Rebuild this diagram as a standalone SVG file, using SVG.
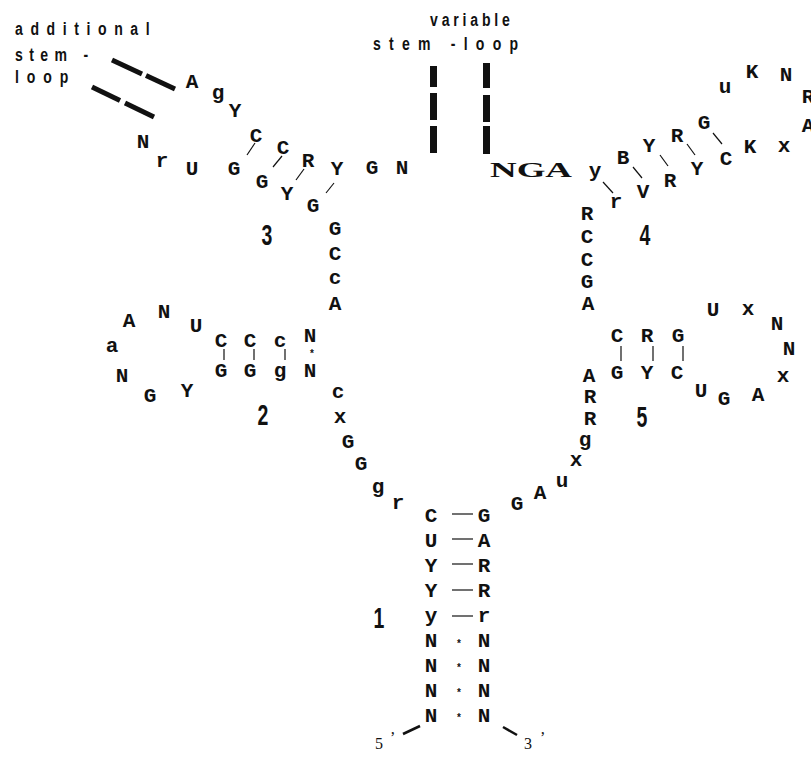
<svg xmlns="http://www.w3.org/2000/svg" width="811" height="758" viewBox="0 0 811 758">
<style>
.b{font-family:"Liberation Mono","Courier New",monospace;font-weight:bold;font-size:21px;text-anchor:middle;fill:#111}
.lab{font-family:"Liberation Sans",Arial,sans-serif;font-weight:bold;font-size:19px;fill:#111}
.num{font-family:"Liberation Sans",Arial,sans-serif;font-weight:bold;font-size:30px;text-anchor:middle;fill:#111}
.st{font-family:"Liberation Sans",Arial,sans-serif;font-weight:bold;font-size:10px;text-anchor:middle;fill:#111}
.end{font-family:"Liberation Serif","Times New Roman",serif;font-size:16px;fill:#111}
.pl{stroke:#111;stroke-width:1.2;fill:none}
.thick{stroke:#111;stroke-width:5;fill:none}
.bar{fill:#111}
</style>
<rect width="811" height="758" fill="#fff"/>

<g id="labels">
<text class="lab" transform="translate(15,35) scale(0.74,1)" textLength="182" lengthAdjust="spacing">additional</text>
<text class="lab" transform="translate(15,61) scale(0.74,1)" textLength="99" lengthAdjust="spacing">stem -</text>
<text class="lab" transform="translate(15,83) scale(0.74,1)" textLength="72" lengthAdjust="spacing">loop</text>
<text class="lab" transform="translate(430,26) scale(0.74,1)" textLength="108" lengthAdjust="spacing">variable</text>
<text class="lab" transform="translate(373,50) scale(0.74,1)" textLength="196" lengthAdjust="spacing">stem -loop</text>
</g>

<g id="connectors">
<line class="thick" x1="112" y1="60" x2="142" y2="74"/>
<line class="thick" x1="146" y1="75.5" x2="175" y2="89"/>
<line class="thick" x1="92" y1="87" x2="120" y2="100.5"/>
<line class="thick" x1="125" y1="103" x2="154" y2="117"/>
<rect class="bar" x="430" y="66" width="7" height="21"/>
<rect class="bar" x="430" y="93" width="7" height="27"/>
<rect class="bar" x="430" y="126" width="7" height="27"/>
<rect class="bar" x="483" y="63" width="7" height="25"/>
<rect class="bar" x="483" y="95" width="7" height="27"/>
<rect class="bar" x="483" y="126" width="7" height="28"/>
<!-- stem 1 -->
<line class="pl" x1="452" y1="514" x2="473" y2="514"/>
<line class="pl" x1="452" y1="539" x2="473" y2="539"/>
<line class="pl" x1="452" y1="564" x2="473" y2="564"/>
<line class="pl" x1="452" y1="590" x2="473" y2="590"/>
<line class="pl" x1="452" y1="616" x2="473" y2="616"/>
<!-- stem 2 -->
<line class="pl" x1="224" y1="349" x2="224" y2="360"/>
<line class="pl" x1="254" y1="349" x2="254" y2="360"/>
<line class="pl" x1="285" y1="349" x2="285" y2="360"/>
<!-- stem 3 -->
<line class="pl" x1="247" y1="155" x2="255" y2="143"/>
<line class="pl" x1="273" y1="167" x2="282" y2="156"/>
<line class="pl" x1="296" y1="180" x2="304" y2="169"/>
<line class="pl" x1="326" y1="193" x2="334" y2="183"/>
<!-- stem 4 -->
<line class="pl" x1="603" y1="182" x2="613" y2="193"/>
<line class="pl" x1="633" y1="167" x2="642" y2="178"/>
<line class="pl" x1="660" y1="155" x2="668" y2="166"/>
<line class="pl" x1="687" y1="144" x2="695" y2="155"/>
<line class="pl" x1="713" y1="133" x2="722" y2="144"/>
<!-- stem 5 -->
<line class="pl" x1="621" y1="346" x2="621" y2="361"/>
<line class="pl" x1="653" y1="346" x2="653" y2="361"/>
<line class="pl" x1="683" y1="346" x2="683" y2="361"/>
<!-- ends -->
<line stroke="#111" stroke-width="2.5" x1="403" y1="734" x2="420" y2="726"/>
<line stroke="#111" stroke-width="2.5" x1="503" y1="727" x2="517" y2="735"/>
</g>

<g id="stem1">
<text class="b" x="431" y="522">C</text><text class="b" x="431" y="547">U</text><text class="b" x="431" y="572">Y</text><text class="b" x="431" y="597">Y</text><text class="b" x="431" y="622">y</text>
<text class="b" x="431" y="647">N</text><text class="b" x="431" y="672">N</text><text class="b" x="431" y="697">N</text><text class="b" x="431" y="722">N</text>
<text class="b" x="484" y="522">G</text><text class="b" x="484" y="547">A</text><text class="b" x="484" y="572">R</text><text class="b" x="484" y="597">R</text><text class="b" x="484" y="622">r</text>
<text class="b" x="484" y="647">N</text><text class="b" x="484" y="672">N</text><text class="b" x="484" y="697">N</text><text class="b" x="484" y="722">N</text>
<text class="st" x="459" y="647">*</text><text class="st" x="459" y="671">*</text><text class="st" x="459" y="696">*</text><text class="st" x="459" y="721">*</text>
<text class="num" transform="translate(379,628) scale(0.65,1)">1</text>
<text class="end" x="375" y="749">5</text><text class="end" x="390" y="743">’</text>
<text class="end" x="524" y="749">3</text><text class="end" x="540" y="743">’</text>
</g>

<g id="junction">
<text class="b" x="398" y="509">r</text><text class="b" x="378" y="493">g</text><text class="b" x="361" y="470">G</text><text class="b" x="348" y="448">G</text><text class="b" x="340" y="423">x</text><text class="b" x="338" y="398">c</text>
<text class="b" x="517" y="510">G</text><text class="b" x="540" y="499">A</text><text class="b" x="562" y="487">u</text><text class="b" x="576" y="466">x</text><text class="b" x="585" y="446">g</text>
<text class="b" x="590" y="425">R</text><text class="b" x="590" y="403">R</text><text class="b" x="589" y="382">A</text>
</g>

<g id="stem2">
<text class="b" x="221" y="347">C</text><text class="b" x="250" y="347">C</text><text class="b" x="280" y="347">c</text><text class="b" x="310" y="342">N</text>
<text class="b" x="221" y="377">G</text><text class="b" x="250" y="377">G</text><text class="b" x="280" y="377">g</text><text class="b" x="310" y="377">N</text>
<text class="st" x="312" y="357">*</text>
<text class="b" x="196" y="332">U</text><text class="b" x="164" y="318">N</text><text class="b" x="129" y="327">A</text><text class="b" x="112" y="352">a</text>
<text class="b" x="122" y="382">N</text><text class="b" x="150" y="402">G</text><text class="b" x="187" y="397">Y</text>
<text class="b" x="335" y="310">A</text><text class="b" x="335" y="284">c</text><text class="b" x="335" y="260">C</text><text class="b" x="335" y="235">G</text>
<text class="num" transform="translate(263,425) scale(0.65,1)">2</text>
</g>

<g id="stem3">
<text class="b" x="313" y="212">G</text><text class="b" x="287" y="200">Y</text><text class="b" x="262" y="188">G</text><text class="b" x="234" y="175">G</text>
<text class="b" x="192" y="175">U</text><text class="b" x="162" y="167">r</text><text class="b" x="143" y="148">N</text>
<text class="b" x="192" y="88">A</text><text class="b" x="218" y="99">g</text><text class="b" x="235" y="117">Y</text><text class="b" x="256" y="142">C</text>
<text class="b" x="283" y="154">C</text><text class="b" x="308" y="167">R</text><text class="b" x="337" y="175">Y</text>
<text class="b" x="372" y="174">G</text><text class="b" x="402" y="174">N</text>
<text class="num" transform="translate(267,245) scale(0.65,1)">3</text>
</g>

<g id="stem4">
<text x="490" y="177" font-family="Liberation Serif,Times New Roman,serif" font-weight="bold" font-size="20" fill="#111" textLength="82" lengthAdjust="spacingAndGlyphs">NGA</text>
<text class="b" x="595" y="177">y</text><text class="b" x="623" y="164">B</text><text class="b" x="649" y="152">Y</text><text class="b" x="677" y="142">R</text><text class="b" x="704" y="129">G</text>
<text class="b" x="725" y="93">u</text><text class="b" x="752" y="78">K</text><text class="b" x="786" y="81">N</text><text class="b" x="808" y="103">R</text><text class="b" x="808" y="132">A</text>
<text class="b" x="784" y="152">x</text><text class="b" x="750" y="153">K</text><text class="b" x="726" y="165">C</text><text class="b" x="697" y="175">Y</text><text class="b" x="670" y="187">R</text>
<text class="b" x="643" y="198">V</text><text class="b" x="616" y="208">r</text>
<text class="b" x="587" y="220">R</text><text class="b" x="587" y="243">C</text><text class="b" x="587" y="266">C</text><text class="b" x="587" y="288">G</text><text class="b" x="588" y="310">A</text>
<text class="num" transform="translate(645,245) scale(0.65,1)">4</text>
</g>

<g id="stem5">
<text class="b" x="617" y="342">C</text><text class="b" x="647" y="342">R</text><text class="b" x="678" y="342">G</text>
<text class="b" x="617" y="379">G</text><text class="b" x="647" y="379">Y</text><text class="b" x="677" y="379">C</text>
<text class="b" x="713" y="316">U</text><text class="b" x="748" y="315">x</text><text class="b" x="777" y="330">N</text><text class="b" x="789" y="355">N</text>
<text class="b" x="783" y="382">x</text><text class="b" x="758" y="401">A</text><text class="b" x="724" y="405">G</text><text class="b" x="701" y="397">U</text>
<text class="num" transform="translate(642,427) scale(0.65,1)">5</text>
</g>
</svg>
